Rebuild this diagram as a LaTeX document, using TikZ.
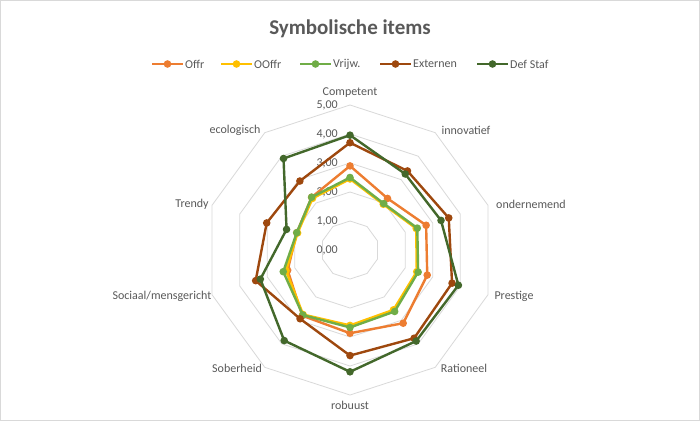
\documentclass[tikz,border=0pt]{standalone}
\usepackage{fontspec}
\setmainfont{Carlito}
\usetikzlibrary{calc}
\definecolor{cOffr}{HTML}{ED7D31}
\definecolor{cOOffr}{HTML}{FFC000}
\definecolor{cVrijw}{HTML}{70AD47}
\definecolor{cExt}{HTML}{9E480E}
\definecolor{cDef}{HTML}{43682B}
\definecolor{txt}{HTML}{595959}
\definecolor{grid}{HTML}{D9D9D9}
\tikzset{
  lbl/.style={text=txt,font=\fontsize{12}{14}\selectfont,inner sep=0pt},
  tick/.style={text=txt,font=\fontsize{12}{14}\selectfont,inner sep=0pt,anchor=east},
  series/.style={line width=2.4pt,line join=round},
}
\newcommand{\pt}[2]{({350+29*(#2)*sin(36*(#1))},{250-29*(#2)*cos(36*(#1))})}
\newcommand{\series}[3]{%
  \draw[series,#1] \pt{0}{#2} \foreach \v [count=\k from 0] in {#3}{ -- \pt{\k}{\v}} -- cycle;
  \foreach \v [count=\k from 0] in {#3}{\fill[#1] \pt{\k}{\v} circle (3.8pt);}
}
\begin{document}
\begin{tikzpicture}[x=1pt,y=-1pt]
\draw[fill=white,draw=grid] (0.5,0.5) rectangle (699.5,420.5);
\useasboundingbox (0,0) rectangle (700,421);
\foreach \r in {1,...,5}{
  \draw[grid,line width=0.8pt] \pt{0}{\r} \foreach \k in {1,...,9}{ -- \pt{\k}{\r}} -- cycle;
}
\node[text=txt,font=\bfseries\fontsize{21}{24}\selectfont] (title) at (350,29) {Symbolische items};
% legend
\foreach \c/\x/\t/\n in {cOffr/152/Offr/a,cOOffr/221/OOffr/b,cVrijw/300/Vrijw./c,cExt/380/Externen/d,cDef/477/Def Staf/e}{
  \coordinate (l\n1) at (\x,64); \coordinate (l\n2) at (\x+31,64);
  \draw[\c,line width=2.4pt] (l\n1) -- (l\n2);
  \fill[\c] ($(l\n1)!0.5!(l\n2)$) circle (3.8pt);
  \node[lbl,anchor=west] (lt\n) at (\x+33,64) {\t};
}
% ticks
\foreach \v in {0,...,5}{\node[tick] (t\v) at (338,{250-29*\v}) {\v,00};}
% axis labels
\node[lbl] (a0) at (350,93) {Competent};
\node[lbl] (a1) at (466,130) {innovatief};
\node[lbl] (a2) at (531,204) {ondernemend};
\node[lbl] (a3) at (514,296) {Prestige};
\node[lbl] (a4) at (464,368) {Rationeel};
\node[lbl] (a5) at (350,405) {robuust};
\node[lbl] (a6) at (237,368) {Soberheid};
\node[lbl] (a7) at (162,296) {Sociaal/mensgericht};
\node[lbl] (a8) at (192,204) {Trendy};
\node[lbl] (a9) at (235,130) {ecologisch};
\series{cOffr}{2.9}{2.9,2.2,2.76,2.8,3.12,2.87,2.8,2.26,1.93,2.25}
\series{cOOffr}{2.45}{2.45,1.95,2.4,2.42,2.55,2.6,2.75,2.32,1.9,2.2}
\series{cVrijw}{2.5}{2.5,1.98,2.44,2.47,2.62,2.67,2.77,2.42,1.93,2.25}
\series{cExt}{3.7}{3.7,3.37,3.58,3.7,3.76,3.64,2.93,3.42,3.02,2.94}
\series{cDef}{3.96}{3.96,3.24,3.3,3.93,3.88,4.2,3.86,3.25,2.3,3.9}
\end{tikzpicture}
\end{document}
